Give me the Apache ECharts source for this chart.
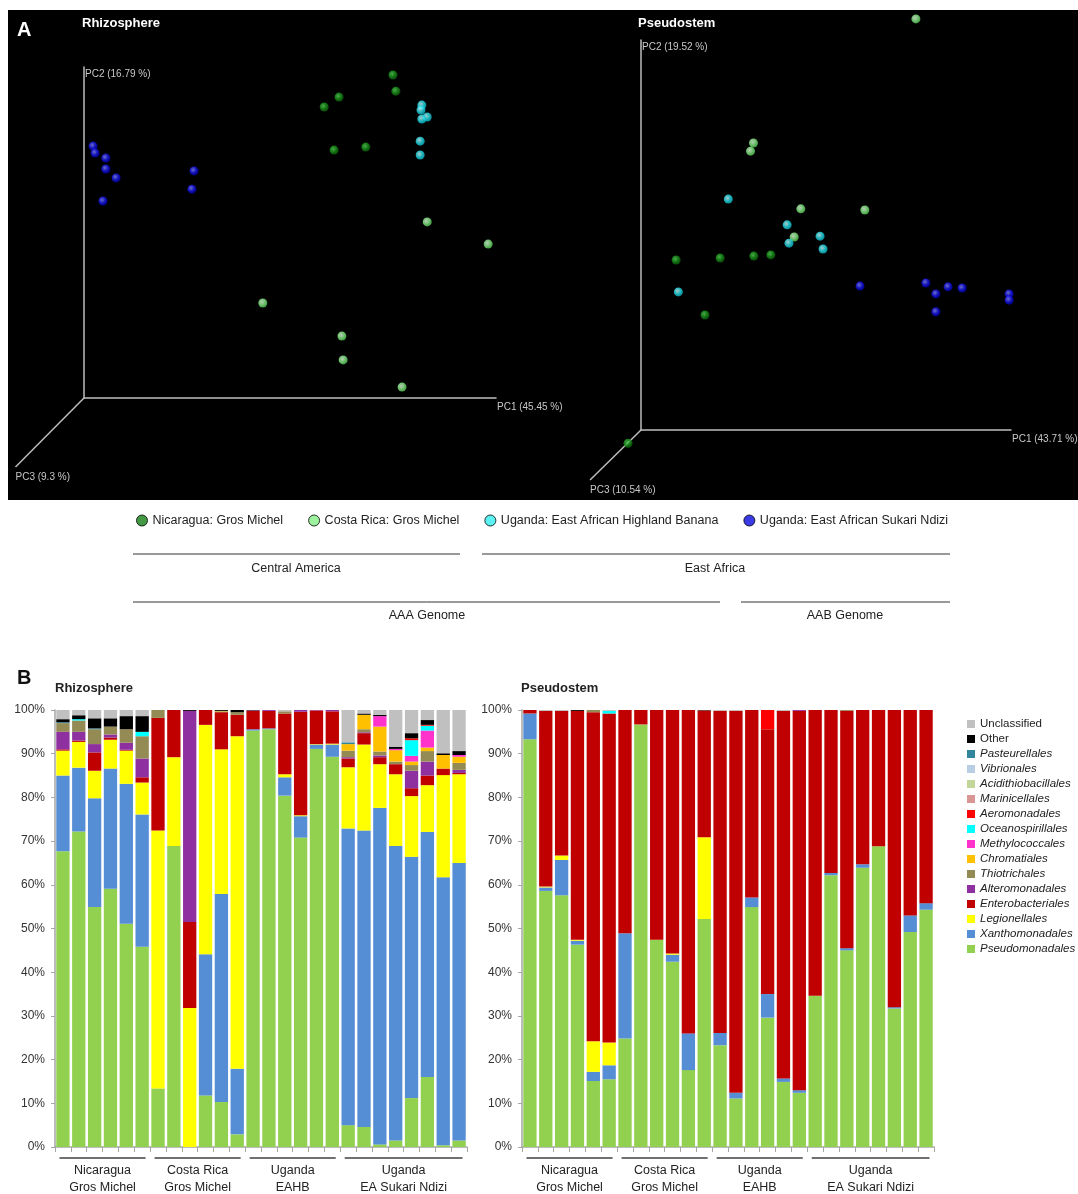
<!DOCTYPE html>
<html><head><meta charset="utf-8">
<script src="https://cdn.jsdelivr.net/npm/echarts/dist/echarts.min.js"></script>
<style>html,body{margin:0;padding:0;background:#fff}#c{width:1078px;height:1194px}</style>
</head><body><div id="c"></div>
<script>
// ===================== DATA =====================
// Panel A: PCoA points, positions read off the projected 3D view,
// expressed in % of the drawn PC1 (x) and PC2 (y) axis lengths.
const pcoaGroups = ['Nicaragua: Gros Michel','Costa Rica: Gros Michel','Uganda: East African Highland Banana','Uganda: East African Sukari Ndizi'];
const rhizoNicaragua = [[75.0,97.6],[75.7,92.7],[61.9,90.9],[58.3,87.9],[60.7,74.9],[68.4,75.8]];
const rhizoCostaRica = [[83.3,53.2],[98.1,46.5],[43.4,28.7],[62.6,18.7],[62.9,11.5],[77.2,3.3]];
const rhizoEAHB      = [[82.0,88.5],[81.8,87.0],[83.3,84.9],[82.0,84.3],[81.6,77.6],[81.6,73.4]];
const rhizoSukari    = [[2.2,76.1],[2.7,74.0],[5.3,72.5],[5.3,69.2],[7.8,66.5],[4.6,59.5],[26.7,68.6],[26.2,63.1]];
const pseudoNicaragua = [[9.5,43.6],[21.4,44.1],[30.5,44.6],[35.1,44.9],[17.3,29.5],[-3.5,-3.4]];
const pseudoCostaRica = [[74.3,105.4],[30.4,73.6],[29.6,71.5],[43.2,56.7],[60.5,56.4],[41.4,49.5]];
const pseudoEAHB      = [[23.6,59.2],[39.5,52.6],[40.0,47.9],[48.4,49.7],[49.2,46.4],[10.1,35.4]];
const pseudoSukari    = [[59.2,36.9],[77.0,37.7],[79.7,34.9],[83.0,36.7],[86.8,36.4],[79.7,30.3],[99.5,34.9],[99.5,33.3]];
const rhizoPC = ['PC1 (45.45 %)','PC2 (16.79 %)','PC3 (9.3 %)'];
const pseudoPC = ['PC1 (43.71 %)','PC2 (19.52 %)','PC3 (10.54 %)'];

// Panel B: relative abundance (%) per sample
const rhizoSamples = ['R1','R2','R3','R4','R5','R6','R7','R8','R9','R10','R11','R12','R13','R14','R15','R16','R17','R18','R19','R20','R21','R22','R23','R24','R25','R26'];
const pseudoSamples = ['P1','P2','P3','P4','P5','P6','P7','P8','P9','P10','P11','P12','P13','P14','P15','P16','P17','P18','P19','P20','P21','P22','P23','P24','P25','P26'];
const groupLine1 = ['Nicaragua','Costa Rica','Uganda','Uganda'];
const groupLine2 = ['Gros Michel','Gros Michel','EAHB','EA Sukari Ndizi'];
const groupSizes = [6,6,6,8];
const orderNames = ['Pseudomonadales','Xanthomonadales','Legionellales','Enterobacteriales','Alteromonadales','Thiotrichales','Chromatiales','Methylococcales','Oceanospirillales','Aeromonadales','Marinicellales','Acidithiobacillales','Vibrionales','Pasteurellales','Other','Unclassified'];
const yTicks = [0,10,20,30,40,50,60,70,80,90,100];

const rhizoPseudomonadales = [67.7,72.2,54.9,59.1,51.1,45.8, 13.4,68.9,0,11.8,10.3,2.9, 95.3,95.6,80.4,70.8,91.1,89.3, 5.0,4.6,0.6,1.5,11.2,16.0,0.4,1.5];
const rhizoXanthomonadales = [17.3,14.6,24.9,27.5,32.0,30.3, 0,0,0,32.3,47.6,15.0, 0.3,0.2,4.2,4.9,1.0,2.8, 67.9,67.8,77.0,67.4,55.2,56.1,61.3,63.5];
const rhizoLegionellales = [5.7,5.9,6.3,6.6,7.6,7.3, 59.0,20.3,31.8,52.5,33.1,76.1, 0,0,0.7,0.2,0.1,0.2, 14.0,19.7,10.0,16.4,13.9,10.7,23.4,20.3];
const rhizoEnterobacteriales = [0.3,0.3,4.2,0.5,0.2,1.2, 25.8,10.8,19.7,3.4,8.5,4.9, 4.2,4.0,13.9,23.7,7.7,7.4, 2.0,2.6,1.6,2.3,1.8,2.2,1.5,0.3];
const rhizoAlteromonadales = [4.0,2.0,1.9,0.7,1.6,4.3, 0,0,48.3,0,0,0, 0.1,0.2,0,0.4,0.1,0.3, 0.3,0.2,0.4,0,4.0,3.2,0,0.7];
const rhizoThiotrichales = [2.0,2.6,3.4,1.8,3.1,5.1, 1.8,0,0,0,0.2,0.6, 0,0,0.5,0,0,0, 1.5,0.7,0.9,0.6,1.3,2.4,0,1.6];
const rhizoChromatiales = [0,0,0,0,0,0, 0,0,0,0,0.1,0, 0,0,0,0,0,0, 1.5,3.3,5.7,2.6,0.8,0.8,3.1,1.4];
const rhizoMethylococcales = [0,0,0,0,0,0, 0,0,0,0,0,0, 0,0,0,0,0,0, 0,0,2.4,0.3,1.3,3.9,0,0.4];
const rhizoOceanospirillales = [0,0.3,0,0,0,1.0, 0,0,0,0,0,0, 0,0,0,0,0,0, 0,0,0,0,3.6,1.1,0,0];
const rhizoAeromonadales = [0,0,0,0,0,0, 0,0,0,0,0,0, 0,0,0,0,0,0, 0,0,0,0,0.4,0.2,0,0];
const rhizoMarinicellales = [0,0,0,0,0,0, 0,0,0,0,0,0, 0,0,0,0,0,0, 0,0,0,0,0,0,0,0];
const rhizoAcidithiobacillales = [0,0,0,0,0,0, 0,0,0,0,0,0, 0,0,0,0,0,0, 0,0,0,0,0,0,0,0];
const rhizoVibrionales = [0,0,0,0,0,0, 0,0,0,0,0,0, 0,0,0,0,0,0, 0,0,0,0,0,0,0,0];
const rhizoPasteurellales = [0.2,0,0.2,0,0,0, 0,0,0,0,0,0, 0,0,0,0,0,0, 0.4,0,0,0,0,0,0,0];
const rhizoOther = [0.7,0.9,2.3,1.9,3.0,3.6, 0,0,0.2,0,0.2,0.5, 0.1,0,0,0,0,0, 0,0.3,0.3,0.5,1.2,1.1,0.4,0.9];
const rhizoUnclassified = [2.1,1.2,1.9,1.9,1.4,1.4, 0,0,0,0,0,0, 0,0,0.3,0,0,0, 7.4,0.8,1.1,8.4,5.3,2.3,9.9,9.4];

const pseudoPseudomonadales = [93.3,58.6,57.6,46.3,15.1,15.5, 24.8,96.7,47.4,42.4,17.6,52.2, 23.3,11.1,54.9,29.6,14.9,12.4, 34.6,62.2,45.0,63.9,68.8,31.7,49.2,54.3];
const pseudoXanthomonadales = [5.9,0.8,8.1,0.9,2.1,3.2, 24.1,0,0,1.6,8.4,0, 2.8,1.3,2.2,5.4,0.8,0.6, 0,0.5,0.5,0.8,0,0.3,3.8,1.5];
const pseudoLegionellales = [0,0.2,1.0,0.2,7.0,5.2, 0,0,0,0.3,0,18.7, 0,0,0,0,0,0, 0,0,0,0,0,0,0,0];
const pseudoEnterobacteriales = [0.8,40.2,33.1,52.4,75.3,75.3, 51.1,3.3,52.6,55.7,74.0,29.0, 73.7,87.4,42.9,60.6,84.1,86.8, 65.4,37.3,54.3,35.3,31.2,68.0,47.0,44.2];
const pseudoAlteromonadales = [0,0,0,0,0,0, 0,0,0,0,0,0, 0,0,0,0,0,0.2, 0,0,0,0,0,0,0,0];
const pseudoThiotrichales = [0,0,0,0,0.5,0, 0,0,0,0,0,0, 0,0,0,0,0,0, 0,0,0.2,0,0,0,0,0];
const pseudoChromatiales = [0,0,0,0,0,0, 0,0,0,0,0,0, 0,0,0,0,0,0, 0,0,0,0,0,0,0,0];
const pseudoMethylococcales = [0,0,0,0,0,0, 0,0,0,0,0,0, 0,0,0,0,0,0, 0,0,0,0,0,0,0,0];
const pseudoOceanospirillales = [0,0,0,0,0,0.6, 0,0,0,0,0,0, 0,0,0,0,0,0, 0,0,0,0,0,0,0,0];
const pseudoAeromonadales = [0,0,0,0,0,0, 0,0,0,0,0,0, 0,0,0,4.4,0,0, 0,0,0,0,0,0,0,0];
const pseudoMarinicellales = [0,0,0,0,0,0, 0,0,0,0,0,0, 0,0,0,0,0,0, 0,0,0,0,0,0,0,0];
const pseudoAcidithiobacillales = [0,0,0,0,0,0, 0,0,0,0,0,0, 0,0,0,0,0,0, 0,0,0,0,0,0,0,0];
const pseudoVibrionales = [0,0,0,0,0,0, 0,0,0,0,0,0, 0,0,0,0,0,0, 0,0,0,0,0,0,0,0];
const pseudoPasteurellales = [0,0,0,0,0,0, 0,0,0,0,0,0, 0,0,0,0,0,0, 0,0,0,0,0,0,0,0];
const pseudoOther = [0,0,0,0.2,0,0, 0,0,0,0,0,0.1, 0,0,0,0,0,0, 0,0,0,0,0,0,0,0];
const pseudoUnclassified = [0,0.2,0.2,0,0,0.2, 0,0,0,0,0,0, 0.2,0.2,0,0,0.2,0, 0,0,0,0,0,0,0,0];

// ===================== STYLE =====================
const orderColors = ['#92d050','#558ed5','#ffff00','#c00000','#8e30a0','#948a54','#ffc000','#ff33cc','#00ffff','#ff0000','#d99694','#c3d69b','#b9cde5','#31859c','#000000','#c0c0c0'];
const pcoaSolid = ['#157f15','#86ee86','#33eef0','#0a0ae0'];
const pcoaGrad = [
  ['#5cd65c','#1a941a','#0b5e0b'],
  ['#e4ffe4','#8cf08c','#52c452'],
  ['#d0ffff','#2ae2ec','#0ab0c0'],
  ['#8888ff','#1a1aee','#0000a8']
];
function sphere(i){
  const g = pcoaGrad[i];
  return {type:'radial', x:0.4, y:0.38, r:0.62, colorStops:[{offset:0,color:g[0]},{offset:0.55,color:g[1]},{offset:1,color:g[2]}]};
}

const rhizoData = [rhizoPseudomonadales,rhizoXanthomonadales,rhizoLegionellales,rhizoEnterobacteriales,rhizoAlteromonadales,rhizoThiotrichales,rhizoChromatiales,rhizoMethylococcales,rhizoOceanospirillales,rhizoAeromonadales,rhizoMarinicellales,rhizoAcidithiobacillales,rhizoVibrionales,rhizoPasteurellales,rhizoOther,rhizoUnclassified];
const pseudoData = [pseudoPseudomonadales,pseudoXanthomonadales,pseudoLegionellales,pseudoEnterobacteriales,pseudoAlteromonadales,pseudoThiotrichales,pseudoChromatiales,pseudoMethylococcales,pseudoOceanospirillales,pseudoAeromonadales,pseudoMarinicellales,pseudoAcidithiobacillales,pseudoVibrionales,pseudoPasteurellales,pseudoOther,pseudoUnclassified];
const rhizoPcoa = [rhizoNicaragua,rhizoCostaRica,rhizoEAHB,rhizoSukari];
const pseudoPcoa = [pseudoNicaragua,pseudoCostaRica,pseudoEAHB,pseudoSukari];

const FONT = '"Liberation Sans", Arial, sans-serif';
const chart = echarts.init(document.getElementById('c'), null, {renderer:'canvas'});

// grids: 0 rhizo PCoA, 1 pseudo PCoA, 2 rhizo bars, 3 pseudo bars
const grids = [
  {left:84, top:67, width:412, height:331},
  {left:641, top:40, width:370, height:390},
  {left:55, top:710, width:412, height:437},
  {left:522, top:710, width:412, height:437}
];
const pcoaAxisLine = {show:true, onZero:false, lineStyle:{color:'#bdbdbd', width:1.5}};
const xAxes = [0,1].map(i => ({gridIndex:i, type:'value', min:0, max:100, axisLine:pcoaAxisLine, axisTick:{show:false}, axisLabel:{show:false}, splitLine:{show:false}}))
  .concat([
    {gridIndex:2, type:'category', data:rhizoSamples},
    {gridIndex:3, type:'category', data:pseudoSamples}
  ].map(a => Object.assign(a, {axisLine:{lineStyle:{color:'#a6a6a6', width:1.5}}, axisTick:{show:true, interval:0, length:5, lineStyle:{color:'#a6a6a6'}}, axisLabel:{show:false}, splitLine:{show:false}})));
const yAxes = [0,1].map(i => ({gridIndex:i, type:'value', min:0, max:100, axisLine:pcoaAxisLine, axisTick:{show:false}, axisLabel:{show:false}, splitLine:{show:false}}))
  .concat([2,3].map(i => ({gridIndex:i, type:'value', min:yTicks[0], max:yTicks[yTicks.length-1], interval:yTicks[1]-yTicks[0],
    axisLine:{show:true, lineStyle:{color:'#a6a6a6', width:1.5}}, axisTick:{show:true, length:4, lineStyle:{color:'#a6a6a6'}},
    axisLabel:{formatter:'{value}%', fontSize:12, color:'#333', fontFamily:FONT, margin:10}, splitLine:{show:false}})));

const series = [];
[rhizoPcoa, pseudoPcoa].forEach((set, gi) => {
  set.forEach((pts, k) => {
    series.push({type:'scatter', name:pcoaGroups[k], xAxisIndex:gi, yAxisIndex:gi, data:pts, symbolSize:9, clip:false,
      itemStyle:{color:sphere(k)}, emphasis:{disabled:true}});
  });
});
[[rhizoData,2,'r'],[pseudoData,3,'p']].forEach(([set, ai, st]) => {
  set.forEach((d, k) => {
    series.push({type:'bar', name:orderNames[k], stack:st, xAxisIndex:ai, yAxisIndex:ai, data:d, barCategoryGap:'16%',
      itemStyle:{color:orderColors[k]}, emphasis:{disabled:true}});
  });
});

const legendBData = orderNames.slice().reverse().map(n => ({name:n}));

const option = {
  animation:false,
  backgroundColor:'#fff',
  grid:grids,
  xAxis:xAxes,
  yAxis:yAxes,
  series:series,
  legend:[
    {data:pcoaGroups.map((n,k)=>({name:n, icon:'circle', itemStyle:{color:pcoaSolid[k], borderColor:'#000', borderWidth:1}})),
     left:131, top:509, itemWidth:11, itemHeight:11, itemGap:25, selectedMode:false,
     textStyle:{fontSize:12.5, color:'#222', fontFamily:FONT}},
    {data:legendBData, orient:'vertical', left:962, top:713, itemWidth:8, itemHeight:8, itemGap:3, icon:'rect', selectedMode:false,
     formatter: n => (n==='Unclassified'||n==='Other') ? '{n|'+n+'}' : '{i|'+n+'}',
     textStyle:{fontSize:11.5, color:'#222', fontFamily:FONT, lineHeight:12,
       rich:{n:{fontSize:11.5, fontFamily:FONT, color:'#222', lineHeight:12}, i:{fontSize:11.5, fontStyle:'italic', fontFamily:FONT, color:'#222', lineHeight:12}}}}
  ]
};
chart.setOption(option);

// ===================== DECORATION (text, 3D axis hints, group brackets) =====================
function txt(t, x, y, opt){
  return Object.assign({type:'text', x:x, y:y, silent:true,
    style:Object.assign({text:t, fill:'#222', font:'12px '+FONT, align:'left', verticalAlign:'middle'}, opt||{})});
}
function line(x1,y1,x2,y2,color,w){
  return {type:'line', silent:true, shape:{x1:x1,y1:y1,x2:x2,y2:y2}, style:{stroke:color, lineWidth:w}};
}
const gfx = [];
gfx.push({type:'rect', z:-10, silent:true, shape:{x:8, y:10, width:1070, height:490}, style:{fill:'#000'}});
gfx.push(txt('A', 17, 30, {fill:'#fff', font:'bold 20px '+FONT}));
gfx.push(txt('Rhizosphere', 82, 23, {fill:'#fff', font:'bold 13px '+FONT}));
gfx.push(txt('Pseudostem', 638, 23, {fill:'#fff', font:'bold 13px '+FONT}));
// PC3 (depth) axes drawn as oblique lines from each origin
[[0, rhizoPC, 15.5, 467],[1, pseudoPC, 590, 480]].forEach(([gi, labels, ex, ey]) => {
  const o = chart.convertToPixel({xAxisIndex:gi, yAxisIndex:gi}, [0,0]);
  const xe = chart.convertToPixel({xAxisIndex:gi, yAxisIndex:gi}, [100,0]);
  const ye = chart.convertToPixel({xAxisIndex:gi, yAxisIndex:gi}, [0,100]);
  gfx.push(line(o[0], o[1], ex, ey, '#bdbdbd', 1.5));
  const f = {fill:'#c8c8c8', font:'10px Arial, "Liberation Sans", sans-serif'};
  gfx.push(txt(labels[0], xe[0]+1, xe[1]+9, f));
  gfx.push(txt(labels[1], ye[0]+1, ye[1]+7, f));
  gfx.push(txt(labels[2], ex, ey+10, f));
});
// Panel A grouping brackets
gfx.push(line(133,554,460,554,'#333',1));
gfx.push(line(482,554,950,554,'#333',1));
gfx.push(line(133,602,720,602,'#333',1));
gfx.push(line(741,602,950,602,'#333',1));
const ctr = {align:'center', font:'12.5px '+FONT, fill:'#222'};
gfx.push(txt('Central America', 296, 569, ctr));
gfx.push(txt('East Africa', 715, 569, ctr));
gfx.push(txt('AAA Genome', 427, 616, ctr));
gfx.push(txt('AAB Genome', 845, 616, ctr));
// Panel B titles
gfx.push(txt('B', 17, 678, {fill:'#111', font:'bold 20px '+FONT}));
gfx.push(txt('Rhizosphere', 55, 688, {fill:'#222', font:'bold 13px '+FONT}));
gfx.push(txt('Pseudostem', 521, 688, {fill:'#222', font:'bold 13px '+FONT}));
// Panel B sample group brackets, placed via the category axes
[[2, rhizoSamples],[3, pseudoSamples]].forEach(([ai, cats]) => {
  const c0 = chart.convertToPixel({xAxisIndex:ai}, cats[0]);
  const c1 = chart.convertToPixel({xAxisIndex:ai}, cats[1]);
  const bw = c1 - c0;
  const yBase = chart.convertToPixel({yAxisIndex:ai}, 0);
  let s = 0;
  groupSizes.forEach((n, g) => {
    const left = chart.convertToPixel({xAxisIndex:ai}, cats[s]) - bw/2;
    const right = chart.convertToPixel({xAxisIndex:ai}, cats[s+n-1]) + bw/2;
    gfx.push(line(left+4.5, yBase+11, right-4.5, yBase+11, '#404040', 1.5));
    const cx = (left+right)/2;
    gfx.push(txt(groupLine1[g], cx, yBase+24, {align:'center', font:'12.5px '+FONT, fill:'#222'}));
    gfx.push(txt(groupLine2[g], cx, yBase+41, {align:'center', font:'12.5px '+FONT, fill:'#222'}));
    s += n;
  });
});
chart.setOption({graphic:{elements:gfx}});
</script>
</body></html>
